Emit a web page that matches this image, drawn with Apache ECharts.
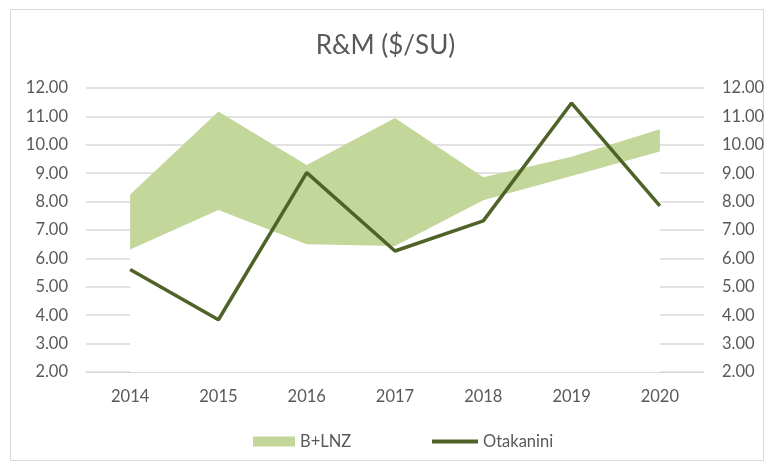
<!DOCTYPE html>
<html lang="en">
<head>
    <meta charset="UTF-8">
    <script src="https://cdn.jsdelivr.net/npm/echarts@6/dist/echarts.min.js"></script>
    <title>R&amp;M ($/SU)</title>
    <style>
        html, body { margin: 0; padding: 0; background: #fff; }
    </style>
</head>
<body>
<div id="chart" style="width: 771px;height: 463px"></div>
<script type="text/javascript">
    // data
    var years = ['2014', '2015', '2016', '2017', '2018', '2019', '2020'];
    var bandLow = [6.31, 7.70, 6.50, 6.44, 8.05, 8.90, 9.76];
    var bandHigh = [8.25, 11.17, 9.29, 10.94, 8.86, 9.58, 10.55];
    var otakanini = [5.61, 3.84, 9.02, 6.26, 7.32, 11.47, 7.85];

    var bandWidth = bandHigh.map(function (v, i) { return +(v - bandLow[i]).toFixed(2); });

    var txt = '#595959';
    var font = 'Lato, "Open Sans", sans-serif';
    var fmt = function (v) { return v.toFixed(2); };

    var chart = echarts.init(document.getElementById('chart'));
    chart.setOption({
        animation: false,
        textStyle: { fontFamily: font },
        graphic: [{
            type: 'rect',
            shape: { x: 10.5, y: 9.5, width: 753, height: 451 },
            style: { fill: 'none', stroke: '#d9d9d9', lineWidth: 1 },
            z: -1
        }],
        title: {
            text: 'R&M ($/SU)',
            left: 'center',
            top: 28,
            textStyle: { color: txt, fontSize: 26, fontWeight: 'normal', fontFamily: font }
        },
        legend: [{
            data: ['B+LNZ'],
            left: 248,
            top: 428,
            icon: 'rect',
            itemWidth: 42,
            itemHeight: 10,
            itemGap: 4,
            textStyle: { color: txt, fontSize: 16.5, fontFamily: font }
        }, {
            data: ['Otakanini'],
            left: 427,
            top: 428,
            icon: 'rect',
            itemWidth: 46,
            itemHeight: 4,
            itemGap: 2,
            textStyle: { color: txt, fontSize: 16.5, fontFamily: font }
        }],
        grid: { left: 86, right: 67, top: 88, bottom: 91 },
        xAxis: {
            type: 'category',
            data: years,
            boundaryGap: true,
            axisLine: { lineStyle: { color: '#d9d9d9' } },
            axisTick: { show: false },
            axisLabel: { color: txt, fontSize: 16.5, margin: 16, fontFamily: font }
        },
        yAxis: [{
            type: 'value',
            min: 2,
            max: 12,
            interval: 1,
            axisLine: { show: false },
            axisTick: { show: false },
            axisLabel: { color: txt, fontSize: 16.5, margin: 18, formatter: fmt, fontFamily: font },
            splitLine: { lineStyle: { color: '#d9d9d9', width: 1.5 } }
        }, {
            type: 'value',
            min: 2,
            max: 12,
            interval: 1,
            position: 'right',
            axisLine: { show: false },
            axisTick: { show: false },
            axisLabel: { color: txt, fontSize: 16.5, margin: 18, formatter: fmt, fontFamily: font },
            splitLine: { show: false }
        }],
        series: [
            {
                name: 'base',
                type: 'line',
                stack: 'band',
                data: bandLow,
                symbol: 'none',
                lineStyle: { width: 0 },
                areaStyle: { color: '#ffffff', opacity: 1 },
                z: 2
            },
            {
                name: 'B+LNZ',
                type: 'line',
                stack: 'band',
                data: bandWidth,
                symbol: 'none',
                itemStyle: { color: '#c4d79b' },
                lineStyle: { width: 0 },
                areaStyle: { color: '#c4d79b', opacity: 1 },
                z: 2
            },
            {
                name: 'Otakanini',
                type: 'line',
                data: otakanini,
                symbol: 'none',
                itemStyle: { color: '#4f6228' },
                lineStyle: { color: '#4f6228', width: 3.5 },
                z: 3
            }
        ]
    });
</script>
</body>
</html>
